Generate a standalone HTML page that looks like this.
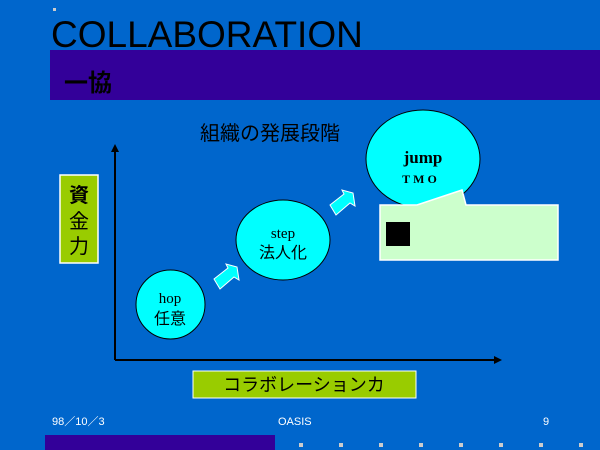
<!DOCTYPE html>
<html><head><meta charset="utf-8"><style>
body{margin:0;width:600px;height:450px;overflow:hidden;background:#0066cc;}
</style></head><body>
<svg width="600" height="450" xmlns="http://www.w3.org/2000/svg" style="position:absolute;left:0;top:0">
<rect width="600" height="450" fill="#0066cc"/>
<rect x="53" y="8" width="3" height="3" fill="#ccc"/>
<text x="51" y="47" font-family="Liberation Sans, sans-serif" font-size="37" fill="#000">COLLABORATION</text>
<rect x="50" y="50" width="550" height="50" fill="#330099"/>
<text x="64" y="91" font-family="Liberation Sans, Noto Sans CJK JP, sans-serif" font-size="24" font-weight="bold" fill="#000">一協</text>
<text x="200" y="140" font-family="Liberation Sans, Noto Sans CJK JP, sans-serif" font-size="20" fill="#000">組織の発展段階</text>
<line x1="115" y1="150" x2="115" y2="360" stroke="#000" stroke-width="2"/>
<polygon points="115,144 111,152 119,152" fill="#000"/>
<line x1="115" y1="360" x2="496" y2="360" stroke="#000" stroke-width="2"/>
<polygon points="502,360 494,356 494,364" fill="#000"/>
<rect x="60" y="175" width="38" height="88" fill="#99cc00" stroke="#fff" stroke-width="1.5"/>
<text x="79" y="202" text-anchor="middle" font-family="Liberation Sans, Noto Sans CJK JP, sans-serif" font-size="20" font-weight="bold" fill="#000">資</text>
<text x="79" y="228" text-anchor="middle" font-family="Liberation Sans, Noto Sans CJK JP, sans-serif" font-size="20" fill="#000">金</text>
<text x="79" y="253" text-anchor="middle" font-family="Liberation Sans, Noto Sans CJK JP, sans-serif" font-size="20" fill="#000">力</text>
<ellipse cx="170.5" cy="304.5" rx="34.5" ry="34.5" fill="#00ffff" stroke="#000" stroke-width="1"/>
<text x="170" y="303" text-anchor="middle" font-family="Liberation Serif, serif" font-size="15" fill="#000">hop</text>
<text x="170" y="324" text-anchor="middle" font-family="Liberation Sans, Noto Sans CJK JP, sans-serif" font-size="16" fill="#000">任意</text>
<ellipse cx="283" cy="240" rx="47" ry="40" fill="#00ffff" stroke="#000" stroke-width="1"/>
<text x="283" y="238" text-anchor="middle" font-family="Liberation Serif, serif" font-size="15" fill="#000">step</text>
<text x="283" y="258" text-anchor="middle" font-family="Liberation Sans, Noto Sans CJK JP, sans-serif" font-size="16" fill="#000">法人化</text>
<ellipse cx="423" cy="159" rx="57" ry="49" fill="#00ffff" stroke="#000" stroke-width="1"/>
<text x="423" y="163" text-anchor="middle" font-family="Liberation Serif, serif" font-size="17" font-weight="bold" fill="#000">jump</text>
<text x="421" y="183" text-anchor="middle" font-family="Liberation Serif, serif" font-size="12" font-weight="bold" letter-spacing="3" fill="#000">TMO</text>
<g fill="#00ffff" stroke="#fff" stroke-width="1">
<polygon points="214,279 228,268 226,264 237,267 239,280 234,277 220,289"/>
<polygon points="330,205 344,194 342,190 353,193 355,206 350,203 336,215"/>
</g>
<polygon points="380,205 417,205 462,190 466,205 558,205 558,260 380,260" fill="#ccffcc" stroke="#fff" stroke-width="1.5"/>
<rect x="386" y="222" width="24" height="24" fill="#000"/>
<rect x="193" y="371" width="223" height="27" fill="#99cc00" stroke="#fff" stroke-width="1"/>
<text x="304" y="391" text-anchor="middle" font-family="Liberation Sans, Noto Sans CJK JP, sans-serif" font-size="18" fill="#000">コラボレーションカ</text>
<text x="52" y="425" font-family="Liberation Sans, Noto Sans CJK JP, sans-serif" font-size="11" fill="#fff">98／10／3</text>
<text x="278" y="425" font-family="Liberation Sans, sans-serif" font-size="11" fill="#fff">OASIS</text>
<text x="543" y="425" font-family="Liberation Sans, sans-serif" font-size="11" fill="#fff">9</text>
<rect x="45" y="435" width="230" height="15" fill="#330099"/>
<g fill="#ccc">
<rect x="299" y="443" width="4" height="4"/><rect x="339" y="443" width="4" height="4"/><rect x="379" y="443" width="4" height="4"/><rect x="419" y="443" width="4" height="4"/><rect x="459" y="443" width="4" height="4"/><rect x="499" y="443" width="4" height="4"/><rect x="539" y="443" width="4" height="4"/><rect x="579" y="443" width="4" height="4"/>
</g>
</svg>
</body></html>
